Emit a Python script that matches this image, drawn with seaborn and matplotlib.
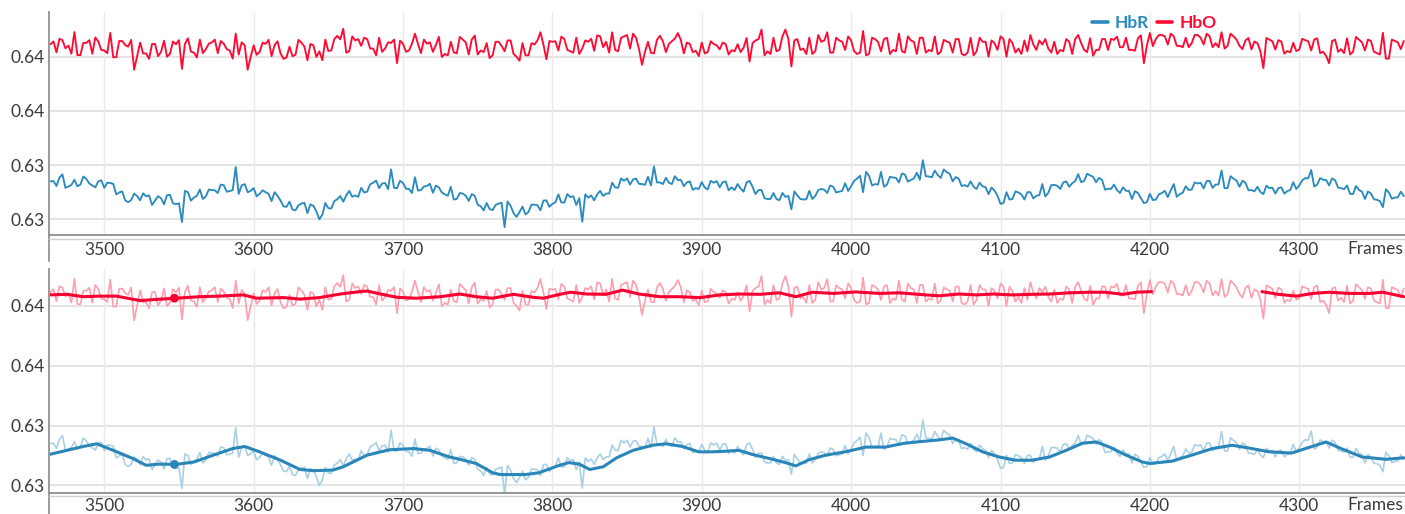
import matplotlib
matplotlib.use("Agg")
import matplotlib.pyplot as plt
from matplotlib.lines import Line2D
from matplotlib.ticker import FuncFormatter, FixedLocator
import pandas as pd
import seaborn as sns

# ---------------- data ----------------
# raw samples read on two interleaved frame grids (every 4 frames, offset by 2)
frames_even = list(range(3464, 4369, 4))
frames_odd = list(range(3466, 4371, 4))

hbr_raw_even = [
    0.63340, 0.63323, 0.63366, 0.63321, 0.63346, 0.63328, 0.63349, 0.63325, 0.63340, 0.63316,
    0.63334, 0.63292, 0.63303, 0.63263, 0.63295, 0.63270, 0.63285, 0.63253, 0.63285, 0.63255,
    0.63290, 0.63256, 0.63190, 0.63300, 0.63280, 0.63310, 0.63284, 0.63308, 0.63297, 0.63326,
    0.63304, 0.63393, 0.63325, 0.63300, 0.63315, 0.63294, 0.63300, 0.63267, 0.63287, 0.63248,
    0.63265, 0.63233, 0.63258, 0.63223, 0.63250, 0.63200, 0.63260, 0.63240, 0.63274, 0.63265,
    0.63305, 0.63288, 0.63316, 0.63302, 0.63335, 0.63315, 0.63334, 0.63384, 0.63315, 0.63334,
    0.63312, 0.63355, 0.63308, 0.63323, 0.63298, 0.63318, 0.63292, 0.63320, 0.63275, 0.63295,
    0.63268, 0.63287, 0.63248, 0.63260, 0.63234, 0.63258, 0.63171, 0.63250, 0.63209, 0.63247,
    0.63227, 0.63254, 0.63233, 0.63270, 0.63257, 0.63292, 0.63262, 0.63282, 0.63253, 0.63191,
    0.63280, 0.63270, 0.63305, 0.63295, 0.63335, 0.63316, 0.63342, 0.63328, 0.63350, 0.63330,
    0.63357, 0.63395, 0.63336, 0.63353, 0.63330, 0.63345, 0.63322, 0.63340, 0.63315, 0.63337,
    0.63310, 0.63335, 0.63318, 0.63340, 0.63318, 0.63330, 0.63302, 0.63342, 0.63293, 0.63308,
    0.63275, 0.63297, 0.63270, 0.63283, 0.63237, 0.63288, 0.63273, 0.63305, 0.63286, 0.63312,
    0.63297, 0.63320, 0.63302, 0.63333, 0.63322, 0.63350, 0.63300, 0.63360, 0.63330, 0.63375,
    0.63328, 0.63354, 0.63336, 0.63365, 0.63345, 0.63372, 0.63418, 0.63358, 0.63380, 0.63353,
    0.63374, 0.63340, 0.63350, 0.63326, 0.63340, 0.63312, 0.63322, 0.63293, 0.63306, 0.63257,
    0.63300, 0.63275, 0.63299, 0.63273, 0.63300, 0.63287, 0.63330, 0.63298, 0.63327, 0.63312,
    0.63340, 0.63333, 0.63367, 0.63342, 0.63362, 0.63337, 0.63345, 0.63313, 0.63328, 0.63297,
    0.63305, 0.63275, 0.63297, 0.63260, 0.63294, 0.63273, 0.63297, 0.63282, 0.63330, 0.63293,
    0.63322, 0.63310, 0.63332, 0.63314, 0.63342, 0.63328, 0.63380, 0.63315, 0.63350, 0.63320,
    0.63335, 0.63308, 0.63320, 0.63293, 0.63315, 0.63295, 0.63318, 0.63304, 0.63337, 0.63325,
    0.63352, 0.63382, 0.63328, 0.63346, 0.63325, 0.63344, 0.63315, 0.63325, 0.63293, 0.63308,
    0.63275, 0.63295, 0.63272, 0.63245, 0.63299, 0.63280, 0.63302,
]

hbr_raw_odd = [
    0.63341, 0.63354, 0.63316, 0.63327, 0.63322, 0.63358, 0.63332, 0.63318, 0.63344, 0.63335,
    0.63331, 0.63299, 0.63270, 0.63271, 0.63286, 0.63296, 0.63288, 0.63269, 0.63278, 0.63289,
    0.63259, 0.63259, 0.63305, 0.63269, 0.63287, 0.63275, 0.63310, 0.63307, 0.63328, 0.63302,
    0.63308, 0.63294, 0.63330, 0.63305, 0.63285, 0.63307, 0.63294, 0.63300, 0.63269, 0.63246,
    0.63236, 0.63252, 0.63261, 0.63255, 0.63229, 0.63217, 0.63241, 0.63267, 0.63286, 0.63288,
    0.63283, 0.63283, 0.63299, 0.63329, 0.63343, 0.63332, 0.63311, 0.63316, 0.63342, 0.63313,
    0.63297, 0.63306, 0.63321, 0.63331, 0.63324, 0.63299, 0.63287, 0.63273, 0.63297, 0.63287,
    0.63293, 0.63254, 0.63233, 0.63238, 0.63253, 0.63261, 0.63266, 0.63223, 0.63227, 0.63218,
    0.63254, 0.63252, 0.63269, 0.63246, 0.63263, 0.63262, 0.63293, 0.63285, 0.63278, 0.63292,
    0.63288, 0.63292, 0.63286, 0.63295, 0.63318, 0.63351, 0.63351, 0.63347, 0.63331, 0.63327,
    0.63325, 0.63336, 0.63330, 0.63335, 0.63359, 0.63346, 0.63336, 0.63309, 0.63312, 0.63317,
    0.63342, 0.63341, 0.63337, 0.63307, 0.63308, 0.63314, 0.63336, 0.63320, 0.63308, 0.63278,
    0.63275, 0.63275, 0.63297, 0.63286, 0.63303, 0.63275, 0.63274, 0.63275, 0.63308, 0.63309,
    0.63325, 0.63299, 0.63305, 0.63305, 0.63342, 0.63361, 0.63375, 0.63325, 0.63328, 0.63320,
    0.63357, 0.63353, 0.63369, 0.63339, 0.63351, 0.63346, 0.63359, 0.63355, 0.63363, 0.63384,
    0.63368, 0.63356, 0.63323, 0.63321, 0.63320, 0.63335, 0.63318, 0.63317, 0.63287, 0.63260,
    0.63273, 0.63303, 0.63292, 0.63300, 0.63277, 0.63289, 0.63284, 0.63326, 0.63324, 0.63336,
    0.63320, 0.63341, 0.63337, 0.63368, 0.63357, 0.63353, 0.63309, 0.63312, 0.63308, 0.63318,
    0.63305, 0.63304, 0.63278, 0.63263, 0.63271, 0.63292, 0.63305, 0.63307, 0.63283, 0.63298,
    0.63308, 0.63336, 0.63335, 0.63341, 0.63316, 0.63329, 0.63315, 0.63359, 0.63343, 0.63342,
    0.63307, 0.63303, 0.63301, 0.63324, 0.63317, 0.63315, 0.63295, 0.63308, 0.63312, 0.63344,
    0.63351, 0.63321, 0.63352, 0.63345, 0.63351, 0.63317, 0.63311, 0.63294, 0.63323, 0.63302,
    0.63303, 0.63274, 0.63267, 0.63311, 0.63276, 0.63281, 0.63286,
]

hbo_raw_even = [
    0.63846, 0.63816, 0.63861, 0.63841, 0.63891, 0.63806, 0.63851, 0.63811, 0.63856, 0.63823,
    0.63888, 0.63798, 0.63858, 0.63837, 0.63752, 0.63852, 0.63812, 0.63847, 0.63802, 0.63859,
    0.63811, 0.63846, 0.63755, 0.63868, 0.63815, 0.63863, 0.63828, 0.63853, 0.63813, 0.63848,
    0.63823, 0.63885, 0.63853, 0.63752, 0.63842, 0.63817, 0.63847, 0.63802, 0.63857, 0.63792,
    0.63837, 0.63807, 0.63852, 0.63787, 0.63842, 0.63820, 0.63863, 0.63823, 0.63877, 0.63903,
    0.63820, 0.63860, 0.63840, 0.63865, 0.63830, 0.63870, 0.63830, 0.63851, 0.63776, 0.63848,
    0.63823, 0.63885, 0.63813, 0.63848, 0.63818, 0.63873, 0.63810, 0.63855, 0.63812, 0.63863,
    0.63808, 0.63878, 0.63823, 0.63850, 0.63805, 0.63855, 0.63820, 0.63860, 0.63800, 0.63850,
    0.63805, 0.63845, 0.63890, 0.63790, 0.63855, 0.63823, 0.63865, 0.63820, 0.63870, 0.63830,
    0.63855, 0.63822, 0.63875, 0.63855, 0.63890, 0.63820, 0.63875, 0.63830, 0.63870, 0.63770,
    0.63855, 0.63812, 0.63877, 0.63817, 0.63857, 0.63887, 0.63812, 0.63847, 0.63822, 0.63852,
    0.63817, 0.63847, 0.63827, 0.63847, 0.63824, 0.63846, 0.63833, 0.63782, 0.63860, 0.63900,
    0.63820, 0.63870, 0.63825, 0.63900, 0.63764, 0.63865, 0.63830, 0.63870, 0.63820, 0.63855,
    0.63890, 0.63815, 0.63860, 0.63825, 0.63860, 0.63810, 0.63895, 0.63810, 0.63865, 0.63820,
    0.63870, 0.63825, 0.63885, 0.63815, 0.63860, 0.63810, 0.63870, 0.63825, 0.63875, 0.63818,
    0.63856, 0.63815, 0.63865, 0.63805, 0.63870, 0.63820, 0.63855, 0.63800, 0.63850, 0.63875,
    0.63800, 0.63850, 0.63830, 0.63860, 0.63880, 0.63825, 0.63845, 0.63830, 0.63855, 0.63825,
    0.63865, 0.63810, 0.63880, 0.63825, 0.63868, 0.63825, 0.63865, 0.63825, 0.63862, 0.63835,
    0.63870, 0.63825, 0.63868, 0.63776, 0.63887, 0.63865, 0.63880, 0.63845, 0.63875, 0.63840,
    0.63870, 0.63850, 0.63880, 0.63845, 0.63875, 0.63850, 0.63890, 0.63840, 0.63875, 0.63840,
    0.63860, 0.63827, 0.63850, 0.63758, 0.63863, 0.63826, 0.63856, 0.63821, 0.63851, 0.63826,
    0.63861, 0.63823, 0.63868, 0.63818, 0.63776, 0.63863, 0.63828, 0.63868, 0.63818, 0.63863,
    0.63823, 0.63858, 0.63813, 0.63888, 0.63793, 0.63858, 0.63828,
]

hbo_raw_odd = [
    0.63856, 0.63866, 0.63831, 0.63811, 0.63806, 0.63851, 0.63861, 0.63871, 0.63825, 0.63813,
    0.63798, 0.63858, 0.63843, 0.63862, 0.63802, 0.63812, 0.63792, 0.63847, 0.63818, 0.63800,
    0.63856, 0.63861, 0.63847, 0.63819, 0.63797, 0.63813, 0.63848, 0.63863, 0.63858, 0.63828,
    0.63793, 0.63808, 0.63842, 0.63799, 0.63807, 0.63852, 0.63862, 0.63842, 0.63812, 0.63797,
    0.63802, 0.63862, 0.63837, 0.63847, 0.63799, 0.63787, 0.63821, 0.63865, 0.63864, 0.63815,
    0.63875, 0.63865, 0.63870, 0.63830, 0.63805, 0.63818, 0.63853, 0.63863, 0.63859, 0.63818,
    0.63848, 0.63848, 0.63863, 0.63853, 0.63843, 0.63799, 0.63805, 0.63816, 0.63873, 0.63853,
    0.63863, 0.63808, 0.63817, 0.63795, 0.63855, 0.63840, 0.63860, 0.63810, 0.63785, 0.63805,
    0.63850, 0.63860, 0.63845, 0.63858, 0.63857, 0.63874, 0.63825, 0.63815, 0.63810, 0.63860,
    0.63866, 0.63879, 0.63835, 0.63815, 0.63825, 0.63870, 0.63880, 0.63885, 0.63828, 0.63818,
    0.63814, 0.63862, 0.63857, 0.63847, 0.63867, 0.63862, 0.63852, 0.63817, 0.63802, 0.63812,
    0.63857, 0.63842, 0.63852, 0.63808, 0.63820, 0.63817, 0.63869, 0.63850, 0.63865, 0.63805,
    0.63810, 0.63820, 0.63875, 0.63865, 0.63860, 0.63825, 0.63810, 0.63810, 0.63880, 0.63860,
    0.63815, 0.63870, 0.63855, 0.63875, 0.63820, 0.63815, 0.63805, 0.63870, 0.63855, 0.63865,
    0.63810, 0.63820, 0.63820, 0.63875, 0.63855, 0.63870, 0.63815, 0.63820, 0.63809, 0.63862,
    0.63851, 0.63865, 0.63810, 0.63815, 0.63805, 0.63870, 0.63855, 0.63860, 0.63825, 0.63865,
    0.63865, 0.63815, 0.63810, 0.63820, 0.63845, 0.63860, 0.63865, 0.63815, 0.63810, 0.63820,
    0.63855, 0.63865, 0.63850, 0.63817, 0.63804, 0.63825, 0.63865, 0.63866, 0.63874, 0.63835,
    0.63825, 0.63822, 0.63879, 0.63841, 0.63839, 0.63880, 0.63875, 0.63885, 0.63840, 0.63835,
    0.63835, 0.63880, 0.63870, 0.63885, 0.63835, 0.63835, 0.63830, 0.63885, 0.63863, 0.63828,
    0.63869, 0.63856, 0.63820, 0.63869, 0.63857, 0.63861, 0.63811, 0.63816, 0.63821, 0.63866,
    0.63857, 0.63863, 0.63813, 0.63803, 0.63858, 0.63818, 0.63813, 0.63808, 0.63873, 0.63853,
    0.63863, 0.63818, 0.63808, 0.63793, 0.63863, 0.63853, 0.63858,
]

hbr_smooth_frames = [
    3463, 3475, 3486, 3495, 3506, 3519, 3528, 3537, 3548, 3560, 3573, 3586, 3594, 3604,
    3618, 3631, 3640, 3653, 3660, 3676, 3691, 3707, 3718, 3731, 3738, 3749, 3760, 3765,
    3782, 3791, 3803, 3811, 3818, 3825, 3834, 3843, 3854, 3867, 3876, 3887, 3898, 3907,
    3916, 3925, 3934, 3945, 3956, 3963, 3972, 3983, 3996, 4010, 4023, 4036, 4050, 4059,
    4068, 4077, 4088, 4099, 4110, 4121, 4133, 4144, 4155, 4164, 4173, 4184, 4195, 4200,
    4215, 4228, 4242, 4255, 4266, 4280, 4295, 4306, 4318, 4328, 4342, 4358, 4370,
]
hbr_smooth = [
    0.63303, 0.63317, 0.63330, 0.63339, 0.63317, 0.63290, 0.63267, 0.63271, 0.63270, 0.63278,
    0.63301, 0.63323, 0.63330, 0.63312, 0.63284, 0.63253, 0.63249, 0.63251, 0.63262, 0.63301,
    0.63319, 0.63323, 0.63317, 0.63295, 0.63287, 0.63273, 0.63242, 0.63236, 0.63236, 0.63242,
    0.63264, 0.63276, 0.63271, 0.63253, 0.63262, 0.63292, 0.63317, 0.63334, 0.63339, 0.63330,
    0.63312, 0.63312, 0.63314, 0.63317, 0.63303, 0.63290, 0.63276, 0.63265, 0.63286, 0.63301,
    0.63312, 0.63328, 0.63328, 0.63341, 0.63348, 0.63352, 0.63358, 0.63339, 0.63312, 0.63295,
    0.63284, 0.63284, 0.63295, 0.63317, 0.63341, 0.63345, 0.63328, 0.63301, 0.63278, 0.63273,
    0.63281, 0.63301, 0.63323, 0.63334, 0.63325, 0.63312, 0.63308, 0.63326, 0.63345, 0.63323,
    0.63295, 0.63287, 0.63292,
]

hbo_smooth_frames_a = [
    3463, 3475, 3486, 3497, 3508, 3524, 3535, 3548, 3564, 3577, 3593, 3602, 3620, 3631,
    3644, 3658, 3671, 3676, 3685, 3696, 3709, 3725, 3738, 3749, 3760, 3774, 3787, 3794,
    3805, 3812, 3823, 3836, 3847, 3858, 3872, 3885, 3899, 3912, 3925, 3939, 3952, 3963,
    3974, 3988, 4003, 4019, 4032, 4050, 4059, 4072, 4084, 4095, 4108, 4121, 4133, 4146,
    4159, 4170, 4182, 4191, 4201,
]
hbo_smooth_a = [
    0.63837, 0.63839, 0.63831, 0.63833, 0.63833, 0.63818, 0.63822, 0.63826, 0.63831, 0.63833,
    0.63837, 0.63826, 0.63828, 0.63823, 0.63828, 0.63840, 0.63848, 0.63850, 0.63840, 0.63829,
    0.63826, 0.63831, 0.63840, 0.63831, 0.63826, 0.63839, 0.63829, 0.63826, 0.63839, 0.63846,
    0.63840, 0.63839, 0.63853, 0.63840, 0.63831, 0.63831, 0.63828, 0.63837, 0.63840, 0.63839,
    0.63844, 0.63831, 0.63846, 0.63842, 0.63847, 0.63842, 0.63844, 0.63837, 0.63834, 0.63840,
    0.63837, 0.63840, 0.63837, 0.63839, 0.63840, 0.63844, 0.63846, 0.63846, 0.63839, 0.63846,
    0.63848,
]
hbo_smooth_frames_b = [4275, 4286, 4298, 4309, 4320, 4333, 4347, 4356, 4370]
hbo_smooth_b = [0.63848, 0.63839, 0.63833, 0.63842, 0.63846, 0.63842, 0.63842, 0.63846, 0.63831]

cursor_frame = 3547
cursor_hbr = 0.63270
cursor_hbo = 0.63826

x_ticks = [3500, 3600, 3700, 3800, 3900, 4000, 4100, 4200, 4300]
y_ticks = [0.632, 0.634, 0.636, 0.638]
series_names = ["HbR", "HbO"]
x_title = "Frames"

# long table of the raw signals, sorted by frame
raw = pd.concat([
    pd.DataFrame({"frame": frames_even, "hbr": hbr_raw_even, "hbo": hbo_raw_even}),
    pd.DataFrame({"frame": frames_odd, "hbr": hbr_raw_odd, "hbo": hbo_raw_odd}),
]).sort_values("frame").reset_index(drop=True)

# ---------------- style ----------------
BLUE = "#2B8BBE"
RED = "#FF0A33"
BLUE_LIGHT = "#A9D0E4"
RED_LIGHT = "#FF9DAC"
BLUE_SMOOTH = "#2A86B9"
RED_SMOOTH = "#F50030"
TXT = "#3A3A3A"

sns.set_theme(style="white")
plt.rcParams["font.family"] = ["Lato", "DejaVu Sans"]

W, H = 1405, 514
fig = plt.figure(figsize=(W / 100, H / 100), dpi=100)
left = 49.3 / W
width = 1 - left
ax1 = fig.add_axes([left, 1 - 235.3 / H, width, 223.0 / H])
ax2 = fig.add_axes([left, 1 - 492.7 / H, width, 223.4 / H])


def style(ax, ylim, spine_ext, frames_y, xpad):
    ax.set_xlim(3463.2, 4370.8)
    ax.set_ylim(*ylim)
    ax.xaxis.set_major_locator(FixedLocator(x_ticks))
    ax.yaxis.set_major_locator(FixedLocator(y_ticks))
    ax.yaxis.set_major_formatter(FuncFormatter(lambda v, p: f"{v:.2f}"))
    ax.tick_params(axis="x", length=0, pad=xpad, labelsize=12.5, labelcolor=TXT)
    ax.tick_params(axis="y", length=0, pad=3, labelsize=12.5, labelcolor=TXT)
    ax.grid(False)
    for t in y_ticks:
        ax.axhline(t, color="#DCDCDC", lw=1.1, zorder=0)
    for t in x_ticks:
        ax.axvline(t, color="#EAEAEA", lw=1.0, zorder=0)
    for s in ["top", "right"]:
        ax.spines[s].set_visible(False)
    ax.spines["left"].set_color("#9A9A9A")
    ax.spines["left"].set_linewidth(1.4)
    ax.spines["bottom"].set_color("#8E8E8E")
    ax.spines["bottom"].set_linewidth(1.3)
    ax.add_line(Line2D([0, 0], [0, spine_ext], transform=ax.transAxes, color="#9A9A9A",
                       lw=1.4, clip_on=False))
    ax.add_line(Line2D([0, 1], [-0.015, -0.015], transform=ax.transAxes, color="#D0D0D0",
                       lw=1.0, clip_on=False))
    ax.text(0.9985, frames_y, x_title, transform=ax.transAxes, ha="right", va="center",
            fontsize=12.5, color=TXT)
    ax.set_xlabel("")
    ax.set_ylabel("")


# top panel: raw signals
sns.lineplot(data=raw, x="frame", y="hbo", ax=ax1, color=RED, lw=1.35, estimator=None)
sns.lineplot(data=raw, x="frame", y="hbr", ax=ax1, color=BLUE, lw=1.35, estimator=None)
style(ax1, (0.63141, 0.639638), -0.115, -0.0614, 5)

handles = [Line2D([], [], color=BLUE, lw=2.6), Line2D([], [], color=RED, lw=2.6)]
ax1.legend(handles, series_names, loc="center", bbox_to_anchor=(0.815, 0.953), ncol=2,
           frameon=False, handlelength=0.9, handletextpad=0.4, columnspacing=0.45,
           labelcolor="linecolor", prop={"weight": "bold", "size": 12.5},
           borderaxespad=0, borderpad=0)

# bottom panel: raw (light) + smoothed
sns.lineplot(data=raw, x="frame", y="hbo", ax=ax2, color=RED_LIGHT, lw=1.2, estimator=None)
sns.lineplot(data=raw, x="frame", y="hbr", ax=ax2, color=BLUE_LIGHT, lw=1.2, estimator=None)
sns.lineplot(x=hbo_smooth_frames_a, y=hbo_smooth_a, ax=ax2, color=RED_SMOOTH, lw=2.2,
             estimator=None)
sns.lineplot(x=hbo_smooth_frames_b, y=hbo_smooth_b, ax=ax2, color=RED_SMOOTH, lw=2.2,
             estimator=None)
sns.lineplot(x=hbr_smooth_frames, y=hbr_smooth, ax=ax2, color=BLUE_SMOOTH, lw=2.2,
             estimator=None)
sns.scatterplot(x=[cursor_frame], y=[cursor_hbo], ax=ax2, color=RED_SMOOTH, s=40,
                edgecolor="none", zorder=5)
sns.scatterplot(x=[cursor_frame], y=[cursor_hbr], ax=ax2, color=BLUE_SMOOTH, s=40,
                edgecolor="none", zorder=5)
style(ax2, (0.631753, 0.639227), -0.1, -0.055, 4)

fig.savefig("out.png", dpi=100)
